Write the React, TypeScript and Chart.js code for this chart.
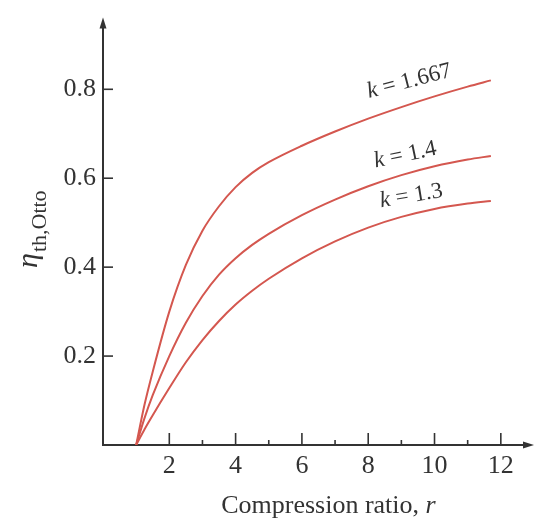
import React, { useEffect, useRef } from "react";
import { Chart, registerables } from "chart.js";

Chart.register(...registerables);

// Compression ratio r (x) and thermal efficiency values
const rValues = [1, 1.25, 1.5, 2, 2.5, 3, 3.5, 4, 4.5, 5, 6, 7, 8, 9, 10, 11, 11.7];
const etaK1667 = [0, 0.09, 0.165, 0.3, 0.405, 0.482, 0.537, 0.58, 0.612, 0.636, 0.673, 0.705, 0.734, 0.76, 0.784, 0.806, 0.82];
const etaK14 = [0, 0.06, 0.112, 0.2, 0.275, 0.335, 0.383, 0.42, 0.45, 0.475, 0.517, 0.552, 0.582, 0.607, 0.627, 0.642, 0.65];
const etaK13 = [0, 0.035, 0.067, 0.128, 0.186, 0.236, 0.279, 0.316, 0.347, 0.374, 0.42, 0.458, 0.489, 0.513, 0.531, 0.543, 0.549];

const seriesNames = ["k = 1.667", "k = 1.4", "k = 1.3"];
const xTickLabels = [2, 4, 6, 8, 10, 12];
const yTickLabels = [0.2, 0.4, 0.6, 0.8];

// annotation anchors (data coords) and angles for the curve labels
const labelR = [9.24, 9.12, 9.3];
const labelEta = [0.818, 0.652, 0.56];
const labelAngle = [-14.5, -12, -9.5];

const RED = "#d4574f";
const INK = "#333333";
const SERIF = "'Liberation Serif', 'DejaVu Serif', serif";

const decorPlugin = {
  id: "decor",
  afterDraw(chart: any) {
    const ctx = chart.ctx as CanvasRenderingContext2D;
    const xs = chart.scales.x;
    const ys = chart.scales.y;
    const area = chart.chartArea;
    ctx.save();
    ctx.strokeStyle = INK;
    ctx.fillStyle = INK;
    ctx.lineWidth = 1.6;
    // inward tick marks on x
    for (let v = 2; v <= 12; v++) {
      const px = xs.getPixelForValue(v);
      const len = v % 2 === 0 ? 12 : 5;
      ctx.beginPath();
      ctx.moveTo(px, area.bottom);
      ctx.lineTo(px, area.bottom - len);
      ctx.stroke();
    }
    // inward tick marks on y
    yTickLabels.forEach((v) => {
      const py = ys.getPixelForValue(v);
      ctx.beginPath();
      ctx.moveTo(area.left, py);
      ctx.lineTo(area.left + 10, py);
      ctx.stroke();
    });
    // arrowheads
    ctx.beginPath();
    ctx.moveTo(area.left, area.top - 5);
    ctx.lineTo(area.left - 3.5, area.top + 6);
    ctx.lineTo(area.left + 3.5, area.top + 6);
    ctx.closePath();
    ctx.fill();
    ctx.beginPath();
    ctx.moveTo(area.right + 5, area.bottom);
    ctx.lineTo(area.right - 6, area.bottom - 3.5);
    ctx.lineTo(area.right - 6, area.bottom + 3.5);
    ctx.closePath();
    ctx.fill();

    // x-axis title
    ctx.fillStyle = INK;
    ctx.textBaseline = "alphabetic";
    ctx.textAlign = "left";
    const t1 = "Compression ratio, ";
    ctx.font = `26px ${SERIF}`;
    const w1 = ctx.measureText(t1).width;
    ctx.font = `italic 26px ${SERIF}`;
    const w2 = ctx.measureText("r").width;
    const cx = xs.getPixelForValue(6.8);
    const startX = cx - (w1 + w2) / 2;
    ctx.font = `26px ${SERIF}`;
    ctx.fillText(t1, startX, 513);
    ctx.font = `italic 26px ${SERIF}`;
    ctx.fillText("r", startX + w1, 513);

    // y-axis title (rotated)
    ctx.save();
    ctx.translate(37, 268);
    ctx.rotate(-Math.PI / 2);
    ctx.font = `italic 30px ${SERIF}`;
    ctx.fillText("\u03b7", 0, 0);
    const we = ctx.measureText("\u03b7").width;
    ctx.font = `22px ${SERIF}`;
    ctx.fillText("th,Otto", we + 1, 9);
    ctx.restore();

    // curve labels
    seriesNames.forEach((name, i) => {
      const px = xs.getPixelForValue(labelR[i]);
      const py = ys.getPixelForValue(labelEta[i]);
      const rest = name.slice(1);
      ctx.save();
      ctx.translate(px, py);
      ctx.rotate((labelAngle[i] * Math.PI) / 180);
      ctx.font = `italic 23px ${SERIF}`;
      const wk = ctx.measureText("k").width;
      ctx.font = `23px ${SERIF}`;
      const wr = ctx.measureText(rest).width;
      const sx = -(wk + wr) / 2;
      ctx.textBaseline = "middle";
      ctx.font = `italic 23px ${SERIF}`;
      ctx.fillText("k", sx, 0);
      ctx.font = `23px ${SERIF}`;
      ctx.fillText(rest, sx + wk, 0);
      ctx.restore();
    });
    ctx.restore();
  },
};

export default function App() {
  const ref = useRef<HTMLCanvasElement | null>(null);
  useEffect(() => {
    if (!ref.current) return;
    const series = [etaK1667, etaK14, etaK13];
    const chart = new Chart(ref.current, {
      type: "line",
      data: {
        datasets: series.map((s, i) => ({
          label: seriesNames[i],
          data: rValues.map((r, j) => ({ x: r, y: s[j] })),
          borderColor: RED,
          borderWidth: 2,
          pointRadius: 0,
          cubicInterpolationMode: "monotone" as const,
          fill: false,
        })),
      },
      options: {
        responsive: false,
        animation: false,
        layout: { padding: { left: 0, right: 5, top: 14, bottom: 0 } },
        plugins: { legend: { display: false }, tooltip: { enabled: false } },
        scales: {
          x: {
            type: "linear",
            min: 0,
            max: 12.85,
            grid: { display: false, drawTicks: false },
            border: { display: true, color: INK, width: 2 },
            afterFit: (s: any) => {
              s.height = 75;
            },
            ticks: {
              stepSize: 1,
              autoSkip: false,
              includeBounds: false,
              padding: 6,
              color: INK,
              font: { family: SERIF, size: 26 },
              maxRotation: 0,
              callback: (v: any) => (xTickLabels.includes(Number(v)) ? String(v) : ""),
            },
          },
          y: {
            type: "linear",
            min: 0,
            max: 0.95,
            grid: { display: false, drawTicks: false },
            border: { display: true, color: INK, width: 2 },
            afterFit: (s: any) => {
              s.width = 103;
            },
            ticks: {
              stepSize: 0.2,
              includeBounds: false,
              padding: 7,
              color: INK,
              font: { family: SERIF, size: 26 },
              callback: (v: any) => {
                const n = Math.round(Number(v) * 10) / 10;
                return yTickLabels.includes(n) ? n.toFixed(1) : "";
              },
            },
          },
        },
      },
      plugins: [decorPlugin],
    });
    return () => chart.destroy();
  }, []);
  return (
    <div style={{ position: "fixed", left: 0, top: 0, width: 534, height: 520, background: "#fff" }}>
      <canvas ref={ref} width={534} height={520} />
    </div>
  );
}
